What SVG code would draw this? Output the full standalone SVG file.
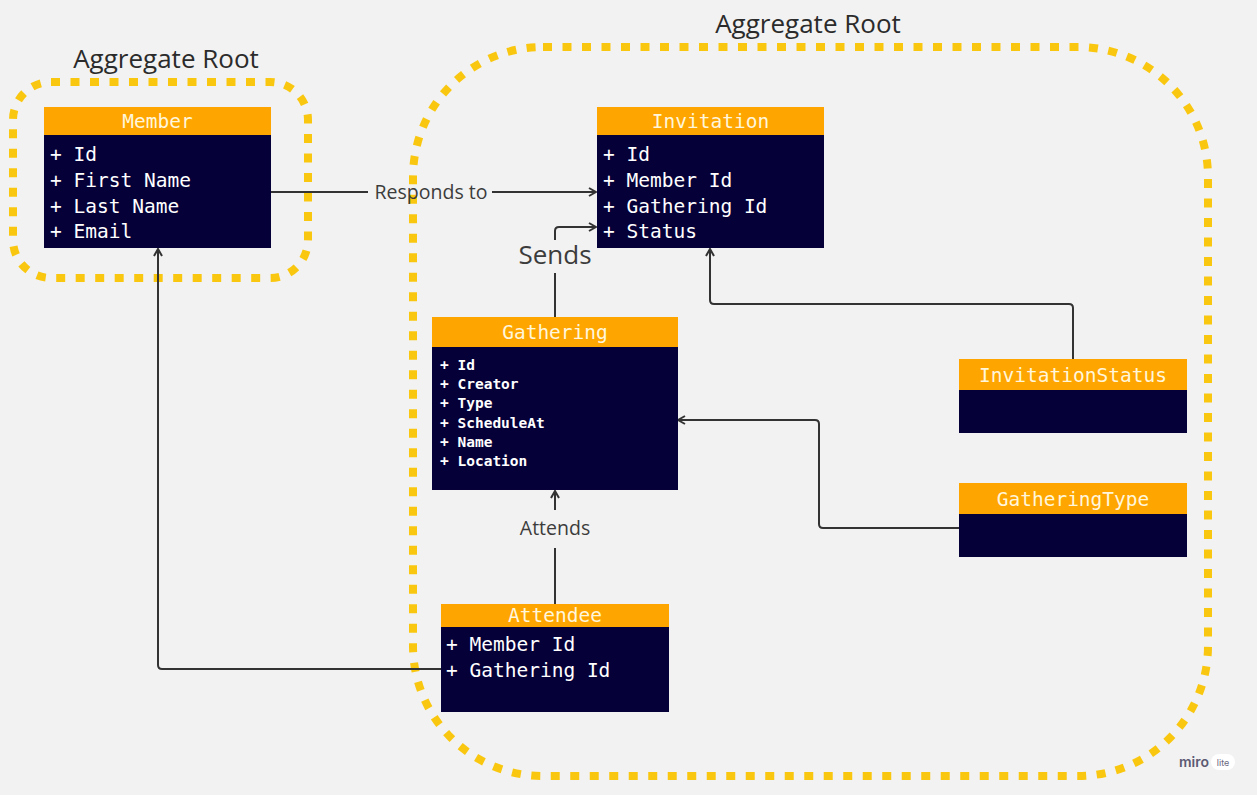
<svg xmlns="http://www.w3.org/2000/svg" width="1257" height="795" viewBox="0 0 1257 795">
<defs>
<style>
.agg{fill:none;stroke:#FAC710;stroke-width:8;stroke-dasharray:9 10.5}
.hdr{fill:#FFA500}
.body{fill:#050038}
.ht{font-family:"DejaVu Sans Mono","Liberation Mono",monospace;font-size:19.5px;fill:#FFF6DC;text-anchor:middle}
.bt{font-family:"DejaVu Sans Mono","Liberation Mono",monospace;font-size:19.5px;fill:#FFFFFF}
.bs{font-family:"DejaVu Sans Mono","Liberation Mono",monospace;font-size:14.5px;font-weight:bold;fill:#FFFFFF}
.title{font-family:"Open Sans","Noto Sans",sans-serif;font-size:26px;fill:#2B2B2B;text-anchor:middle}
.lbl{font-family:"Open Sans","Noto Sans",sans-serif;font-size:19.5px;fill:#3C3C3C;text-anchor:middle}
.edge{fill:none;stroke:#333333;stroke-width:2;stroke-linejoin:round}
</style>
<marker id="arr" viewBox="0 0 10 10" refX="9" refY="5" markerWidth="10" markerHeight="10" markerUnits="userSpaceOnUse" orient="auto">
<path d="M2,1 L9,5 L2,9" fill="none" stroke="#333333" stroke-width="2"/>
</marker>
</defs>
<rect width="1257" height="795" fill="#F2F2F2"/>

<g id="aggregates">
<rect class="agg" x="13" y="82" width="295" height="196" rx="38"/>
<rect class="agg" x="413" y="47" width="795" height="729" rx="130"/>
<text class="title" x="166" y="68">Aggregate Root</text>
<text class="title" x="808" y="33">Aggregate Root</text>
</g>

<g id="connectors">
<path class="edge" d="M271,192 H368" />
<path class="edge" d="M492,192 H596" marker-end="url(#arr)"/>
<text class="lbl" x="431" y="199">Responds to</text>
<path class="edge" d="M555,318 V273"/>
<path class="edge" d="M555,240 V231 Q555,227 559,227 H596" marker-end="url(#arr)"/>
<text class="lbl" x="555" y="264" style="font-size:26px">Sends</text>
<path class="edge" d="M1073,359 V308 Q1073,304 1069,304 H714 Q710,304 710,300 V249" marker-end="url(#arr)"/>
<path class="edge" d="M959,528 H823 Q819,528 819,524 V424 Q819,420 815,420 H678" marker-end="url(#arr)"/>
<path class="edge" d="M555,605 V548"/>
<path class="edge" d="M555,510 V491" marker-end="url(#arr)"/>
<text class="lbl" x="555" y="535">Attends</text>
<path class="edge" d="M441,669 H162 Q158,669 158,665 V249" marker-end="url(#arr)"/>
</g>

<g id="member">
<rect class="hdr" x="44" y="107" width="227" height="28"/>
<rect class="body" x="44" y="135" width="227" height="113"/>
<text class="ht" x="157.5" y="128">Member</text>
<text class="bt" x="50" y="161">+ Id</text>
<text class="bt" x="50" y="187">+ First Name</text>
<text class="bt" x="50" y="213">+ Last Name</text>
<text class="bt" x="50" y="238">+ Email</text>
</g>

<g id="invitation">
<rect class="hdr" x="597" y="107" width="227" height="28"/>
<rect class="body" x="597" y="135" width="227" height="113"/>
<text class="ht" x="710.5" y="128">Invitation</text>
<text class="bt" x="603" y="161">+ Id</text>
<text class="bt" x="603" y="187">+ Member Id</text>
<text class="bt" x="603" y="213">+ Gathering Id</text>
<text class="bt" x="603" y="238">+ Status</text>
</g>

<g id="gathering">
<rect class="hdr" x="432" y="317" width="246" height="30"/>
<rect class="body" x="432" y="347" width="246" height="143"/>
<text class="ht" x="555" y="339">Gathering</text>
<text class="bs" x="440" y="370">+ Id</text>
<text class="bs" x="440" y="389">+ Creator</text>
<text class="bs" x="440" y="408">+ Type</text>
<text class="bs" x="440" y="428">+ ScheduleAt</text>
<text class="bs" x="440" y="447">+ Name</text>
<text class="bs" x="440" y="466">+ Location</text>
</g>

<g id="invitationstatus">
<rect class="hdr" x="959" y="359" width="228" height="31"/>
<rect class="body" x="959" y="390" width="228" height="43"/>
<text class="ht" x="1073" y="382">InvitationStatus</text>
</g>

<g id="gatheringtype">
<rect class="hdr" x="959" y="483" width="228" height="31"/>
<rect class="body" x="959" y="514" width="228" height="43"/>
<text class="ht" x="1073" y="506">GatheringType</text>
</g>

<g id="attendee">
<rect class="hdr" x="441" y="604" width="228" height="23"/>
<rect class="body" x="441" y="627" width="228" height="85"/>
<text class="ht" x="555" y="622">Attendee</text>
<text class="bt" x="446" y="651">+ Member Id</text>
<text class="bt" x="446" y="677">+ Gathering Id</text>
</g>

<g id="watermark">
<text x="1179" y="767" style="font-family:'Inter','Noto Sans',sans-serif;font-size:14px;font-weight:600;fill:#5C5A73">miro</text>
<rect x="1211" y="754" width="24" height="16" rx="8" fill="#FFFFFF"/>
<text x="1223" y="766" style="font-family:'Inter','Noto Sans',sans-serif;font-size:9px;fill:#6A6880;text-anchor:middle">lite</text>
</g>
</svg>
